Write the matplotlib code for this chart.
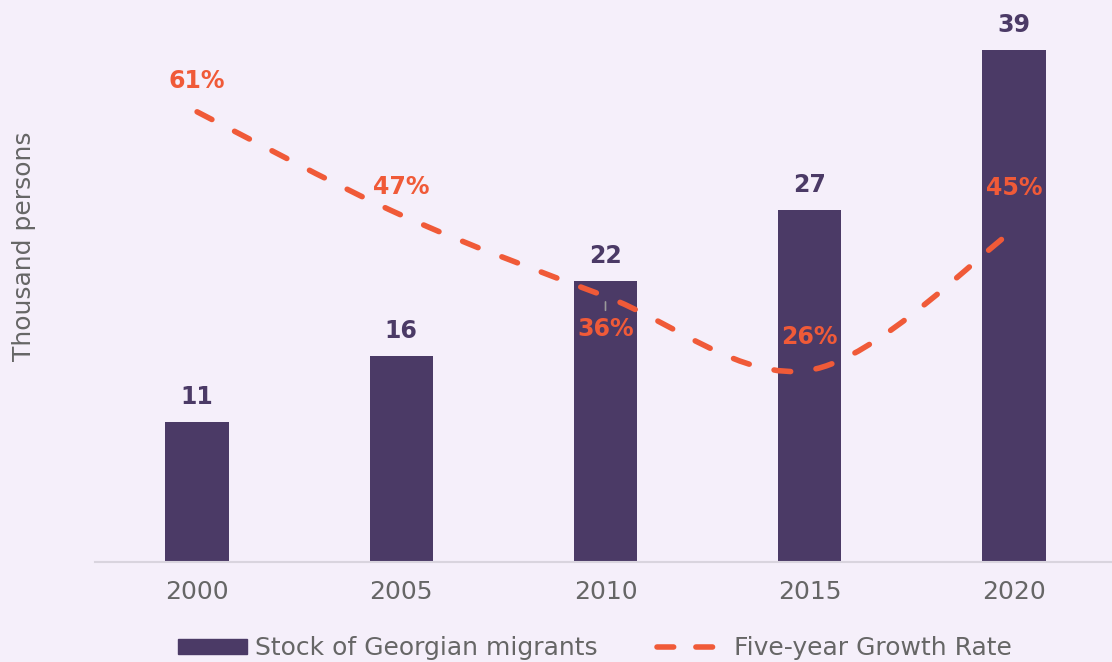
import numpy as np
import matplotlib
matplotlib.use('Agg')
import matplotlib.pyplot as plt
from matplotlib.path import Path
from matplotlib.patches import PathPatch
from matplotlib.lines import Line2D

# data
years = ['2000', '2005', '2010', '2015', '2020']
stock = [10.7, 15.7, 21.4, 26.8, 39.0]          # thousand persons
stock_labels = ['11', '16', '22', '27', '39']
growth = [61, 47, 36, 26, 45]                    # five-year growth rate, %
growth_labels = ['61%', '47%', '36%', '26%', '45%']

bg = '#F5EFFA'
bar_col = '#4B3A66'
line_col = '#F05A38'
grey = '#666666'

fig = plt.figure(figsize=(11.12, 6.62), dpi=100, facecolor=bg)
ax = fig.add_axes([95 / 1112, 100 / 662, 1021 / 1112, 542 / 662])
ax.set_facecolor(bg)
x = np.arange(len(years))

bars = ax.bar(x, stock, width=0.31, color=bar_col, zorder=2)
ax.set_xlim(-0.5, 4.5)
ax.set_ylim(0, 542 / 13.13)
ax.set_xticks(x)
ax.set_xticklabels(years, fontsize=18, color=grey)
ax.tick_params(axis='x', length=0, pad=13)
ax.set_yticks([])
for s in ['top', 'right', 'left']:
    ax.spines[s].set_visible(False)
ax.spines['bottom'].set_color('#D9D4DE')
ax.spines['bottom'].set_linewidth(1.5)

for xi, v, lab in zip(x, stock, stock_labels):
    ax.annotate(lab, (xi, v), xytext=(0, 25), textcoords='offset pixels',
                ha='center', va='center', fontsize=17, fontweight='bold', color=bar_col)

# growth rate on hidden secondary axis
ax2 = ax.twinx()
ax2.set_ylim(0, 542 / 7.38)
ax2.set_yticks([])
for s in ax2.spines.values():
    s.set_visible(False)

# smooth curve through the points (Catmull-Rom as cubic Bezier)
pts = np.column_stack([x, growth]).astype(float)
ext = np.vstack([pts[0], pts, pts[-1]])
verts = [tuple(pts[0])]
codes = [Path.MOVETO]
for i in range(len(pts) - 1):
    p0, p1, p2, p3 = ext[i], ext[i + 1], ext[i + 2], ext[i + 3]
    c1 = p1 + (p2 - p0) / 6
    c2 = p2 - (p3 - p1) / 6
    verts += [tuple(c1), tuple(c2), tuple(p2)]
    codes += [Path.CURVE4] * 3
patch = PathPatch(Path(verts, codes), facecolor='none', edgecolor=line_col,
                  lw=4, linestyle=(0, (3, 4.6)), capstyle='round', zorder=3)
ax2.add_patch(patch)

offsets = [(0, 31), (0, 28), (0, -33), (0, 33), (0, 42)]
for xi, v, lab, off in zip(x, growth, growth_labels, offsets):
    ax2.annotate(lab, (xi, v), xytext=off, textcoords='offset pixels',
                 ha='center', va='center', fontsize=17, fontweight='bold', color=line_col)
# small leader for the 36% label
ax2.annotate('', (2, 36), xytext=(0, -14), textcoords='offset pixels',
             arrowprops=dict(arrowstyle='-', color='#9A9A9A', lw=1.2,
                             shrinkA=0, shrinkB=4))

fig.text(24 / 1112, 1 - 246 / 662, 'Thousand persons', rotation=90,
         ha='center', va='center', fontsize=18, color=grey)

handles = [plt.Rectangle((0, 0), 1, 1, color=bar_col),
           Line2D([0], [0], color=line_col, lw=4, linestyle=(0, (3, 4)),
                  dash_capstyle='round')]
fig.legend(handles, ['Stock of Georgian migrants', 'Five-year Growth Rate'],
           loc='center', bbox_to_anchor=(0.535, 1 - 648 / 662), ncol=2,
           frameon=False, fontsize=18, labelcolor=grey, handlelength=2.75,
           handleheight=0.55, handletextpad=0.3, columnspacing=2.4)

fig.savefig('out.png', dpi=100, facecolor=bg)
